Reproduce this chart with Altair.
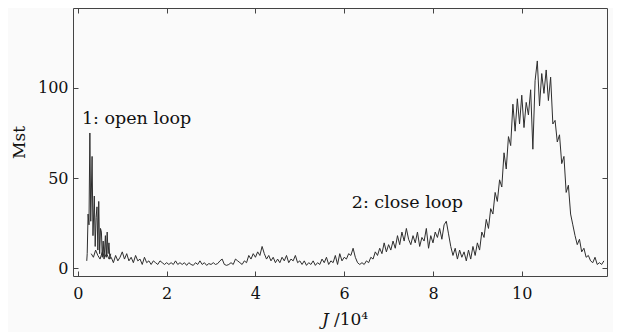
import altair as alt
import pandas as pd

# ---- data ----
close_start = 0.30
close_step = 0.05
close_y = [
    8, 6, 10, 7, 5, 9, 6, 8, 5,
    6, 3, 7, 4, 6, 9, 5, 8, 4, 6, 3,
    7, 4, 5, 2, 6, 3, 4, 2, 4, 3, 2, 4, 3, 2, 3,
    2, 3, 2, 4, 2, 3, 2, 3, 1.5, 3, 2, 1.5, 3, 2, 4, 2, 3, 1.5, 2.5, 2,
    3, 2, 2.5, 4, 5, 2, 1.5, 2, 3, 2, 5, 4, 3, 2, 4, 3, 7, 5, 8, 6,
    9, 7, 12, 8, 5, 7, 4, 6, 3, 5, 3, 6, 4, 7, 3, 5, 4, 7, 3, 4,
    2, 4, 1.5, 3, 2, 4, 1.5, 3, 2, 5, 3, 6, 2, 4, 3, 7, 2, 8, 4, 6,
    5, 8, 7, 11, 6, 3, 2, 3, 2, 4, 3, 6, 5, 9, 7, 11, 8, 14, 9, 13,
    10, 15, 11, 18, 13, 20, 15, 22, 16, 13, 18, 14, 20, 12, 17, 15, 22, 11, 18, 14,
    20, 17, 22, 16, 24, 26, 19, 12, 7, 11, 5, 10, 6, 9, 4, 10, 5, 12, 7, 14,
    10, 20, 17, 27, 22, 33, 30, 42, 37, 49, 45, 64, 55, 73, 68, 91, 76, 94, 80, 96,
    78, 92, 85, 99, 66, 104, 115, 90, 108, 97, 110, 93, 106, 80, 82, 70, 74, 58, 62, 42,
    46, 30, 24, 18, 13, 16, 9, 11, 6, 7, 4, 3, 6, 2, 3, 2, 4,
]
close_x = [round(close_start + close_step * i, 2) for i in range(len(close_y))]

open_x = [0.20, 0.21, 0.23, 0.25, 0.27, 0.29, 0.32, 0.34, 0.37, 0.39, 0.41, 0.43, 0.45,
          0.47, 0.49, 0.51, 0.53, 0.55, 0.57, 0.59, 0.62, 0.64, 0.66, 0.68, 0.70, 0.72, 0.74]
open_y = [4, 8, 30, 24, 75, 26, 62, 18, 40, 12, 28, 34, 10,
          37, 8, 22, 20, 6, 15, 5, 18, 6, 20, 8, 14, 5, 8]

x_ticks = [0, 2, 4, 6, 8, 10]
y_ticks = [0, 50, 100]
labels = ["1: open loop", "2: close loop"]
label_x = [0.09, 6.17]
label_y = [83, 36]

close_df = pd.DataFrame({"J": close_x, "Mst": close_y})
open_df = pd.DataFrame({"J": open_x, "Mst": open_y})
lab_df = pd.DataFrame({"J": label_x, "Mst": label_y, "t": labels})

FONT = "DejaVu Serif"
xs = alt.Scale(domain=[-0.11, 11.92], nice=False, zero=False)
ys = alt.Scale(domain=[-4.4, 144.4], nice=False, zero=False)

line_color = "#2e2e2e"

close_line = alt.Chart(close_df).mark_line(color=line_color, strokeWidth=1).encode(
    x=alt.X("J:Q", scale=xs, axis=alt.Axis(
        orient="bottom", values=x_ticks, offset=-5, tickSize=5, domain=False,
        labelPadding=9, labelFont=FONT, labelFontSize=16, labelColor="#111",
        tickColor="#444", grid=False, title=None)),
    y=alt.Y("Mst:Q", scale=ys, axis=alt.Axis(
        orient="left", values=y_ticks, offset=-5, tickSize=5, domain=False,
        labelPadding=5, labelFont=FONT, labelFontSize=16, labelColor="#111",
        tickColor="#444", grid=False, title="Mst", titleFont=FONT,
        titleFontSize=17, titleFontWeight="normal", titleColor="#111",
        titlePadding=9)),
)

open_line = alt.Chart(open_df).mark_line(color=line_color, strokeWidth=1).encode(
    x=alt.X("J:Q", scale=xs, axis=alt.Axis(
        orient="top", values=x_ticks, offset=-5, tickSize=5, domain=False,
        labels=False, tickColor="#444", grid=False, title=None)),
    y=alt.Y("Mst:Q", scale=ys, axis=alt.Axis(
        orient="right", values=y_ticks, offset=-5, tickSize=5, domain=False,
        labels=False, tickColor="#444", grid=False, title=None)),
)

ann = alt.Chart(lab_df).mark_text(
    font=FONT, fontSize=17.5, align="left", baseline="middle", color="#111"
).encode(
    x=alt.X("J:Q", scale=xs, axis=None),
    y=alt.Y("Mst:Q", scale=ys, axis=None),
    text="t:N",
)

title_j = alt.Chart(pd.DataFrame({"t": ["J"]})).mark_text(
    font=FONT, fontSize=17, fontStyle="italic", align="left", baseline="middle", color="#111"
).encode(x=alt.value(249), y=alt.value(312), text="t:N")

title_rest = alt.Chart(pd.DataFrame({"t": ["/10⁴"]})).mark_text(
    font=FONT, fontSize=17, align="left", baseline="middle", color="#111"
).encode(x=alt.value(261), y=alt.value(312), text="t:N")

chart = alt.layer(close_line, open_line, ann, title_j, title_rest).resolve_axis(
    x="independent", y="independent"
).properties(
    width=534, height=268,
    autosize=alt.AutoSizeParams(type="none"),
    padding={"left": 65, "top": 0, "right": 6, "bottom": 56},
    background="#fafafa",
).configure_view(stroke="#444", strokeWidth=1)

chart.save("out.html", embed_options={"renderer": "svg", "actions": False})
